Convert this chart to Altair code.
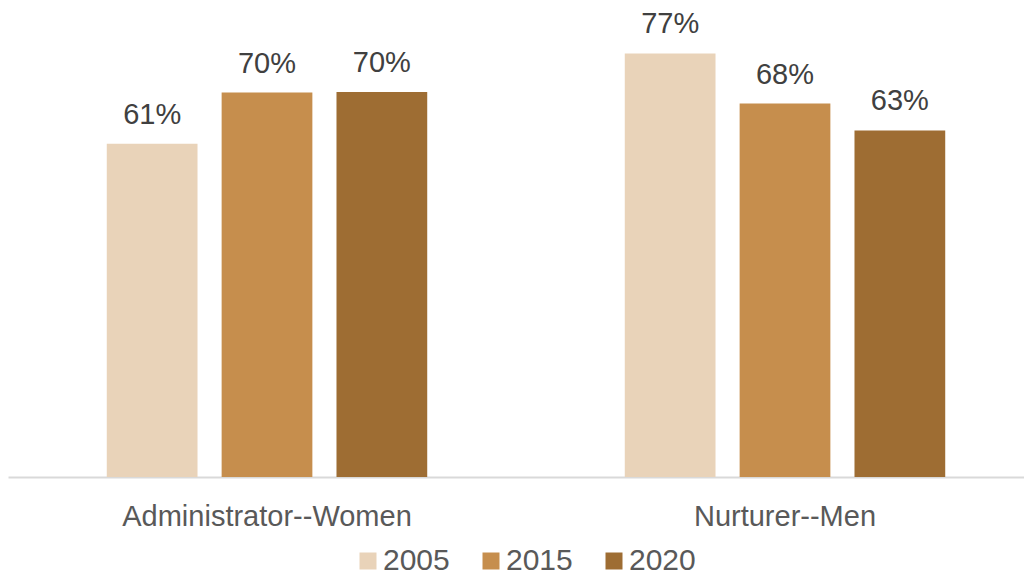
import altair as alt
import pandas as pd

categories = ["Administrator--Women", "Nurturer--Men"]
years = ["2005", "2015", "2020"]
# values (labels show rounded percent)
admin_women = [60.6, 69.9, 70.0]
nurturer_men = [77.0, 67.9, 63.0]

colors = ["#E9D3B9", "#C68E4D", "#9E6D33"]

rows = []
for cat, vals in zip(categories, [admin_women, nurturer_men]):
    for yr, v in zip(years, vals):
        rows.append({"category": cat, "year": yr, "value": v,
                     "label": f"{round(v):d}%"})
df = pd.DataFrame(rows)

FONT = "Liberation Sans"

x = alt.X("category:N", sort=categories, title=None,
          scale=alt.Scale(range=[0, 1036], paddingInner=0, paddingOuter=0),
          axis=alt.Axis(labelAngle=0, labelFontSize=29, labelColor="#595959",
                        labelFont=FONT, labelPadding=25, ticks=False, labelLimit=0,
                        domainColor="#D9D9D9", domainWidth=2, grid=False))
xo = alt.XOffset("year:N", sort=years,
                 scale=alt.Scale(paddingInner=0.21, paddingOuter=0.86))
y = alt.Y("value:Q", axis=None, scale=alt.Scale(domain=[0, 85.27], nice=False))

bars = alt.Chart(df).mark_bar().encode(
    x=x, xOffset=xo, y=y,
    color=alt.Color("year:N", sort=years,
                    scale=alt.Scale(domain=years, range=colors),
                    legend=alt.Legend(title=None, orient="none", direction="horizontal",
                                      legendX=345, legendY=538,
                                      symbolType="square", symbolSize=289,
                                      symbolStrokeWidth=0, symbolOpacity=1,
                                      labelFontSize=30, labelColor="#595959",
                                      labelFont=FONT, labelOffset=0,
                                      columnPadding=26)),
)

labels = alt.Chart(df).mark_text(fontSize=29, color="#404040", font=FONT,
                                 baseline="alphabetic", dy=-20).encode(
    x=x, xOffset=xo, y=y, text="label:N"
)

chart = alt.layer(bars, labels).properties(
    width=1016, height=469,
    padding={"left": 0, "top": 0, "right": 0, "bottom": 99},
    autosize=alt.AutoSizeParams(type="none"),
).configure_view(stroke=None)

chart.save("out.html", embed_options={"renderer": "svg", "actions": False})
